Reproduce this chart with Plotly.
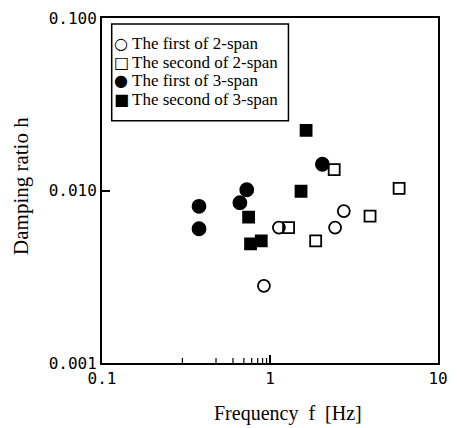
import math
import plotly.graph_objects as go

# Frequency [Hz] and damping ratio h for each mode group
first_2span_f = [1.13, 2.44, 2.75, 0.92]
first_2span_h = [0.0061, 0.0061, 0.0076, 0.0028]

second_2span_f = [1.29, 1.87, 2.41, 3.94, 5.87]
second_2span_h = [0.0061, 0.0051, 0.0132, 0.0071, 0.0103]

first_3span_f = [0.378, 0.378, 0.662, 0.727, 2.05]
first_3span_h = [0.0081, 0.0060, 0.0085, 0.0101, 0.0142]

second_3span_f = [0.746, 0.766, 0.887, 1.53, 1.64]
second_3span_h = [0.0070, 0.0049, 0.0051, 0.0099, 0.0223]

series = [
    ("The first of 2-span", first_2span_f, first_2span_h, "circle-open", 12, "○"),
    ("The second of 2-span", second_2span_f, second_2span_h, "square-open", 11, "□"),
    ("The first of 3-span", first_3span_f, first_3span_h, "circle", 13, "●"),
    ("The second of 3-span", second_3span_f, second_3span_h, "square", 11, "■"),
]

fig = go.Figure()
for name, fx, hy, sym, size, _ in series:
    fig.add_trace(go.Scatter(
        x=fx, y=hy, mode="markers", name=name, showlegend=False,
        marker=dict(symbol=sym, size=size, color="black",
                    line=dict(color="black", width=1.8)),
    ))

tick_font = dict(family="DejaVu Sans Mono", size=16, color="#000000")
serif = "Liberation Serif"
x_decades = (-1, 1)   # log10 of 0.1 .. 10
y_decades = (-3, -1)  # log10 of 0.001 .. 0.1

axis_style = dict(
    dtick=1, ticks="inside", ticklen=8, tickwidth=1.5, tickcolor="#000000",
    showline=True, linecolor="#000000", linewidth=2, mirror=True,
    gridcolor="rgba(0,0,0,0)", tickfont=tick_font,
)
fig.update_xaxes(type="log", range=list(x_decades), **axis_style)
fig.update_yaxes(type="log", range=list(y_decades), tickformat=".3f", **axis_style)

# Plot-area geometry in pixels, used to place the axis titles and the key box
W, H = 457, 428
L, R, T, B = 102, 9, 17, 65
pw, ph = W - L - R, H - T - B


def px(x):
    return (x - L) / pw


def py(y):
    return 1 - (y - T) / ph


# Inward tick marks on the bottom and left axes: long at each decade, short at 2..9
tick_shapes = []
for lo, hi, axis in ((*x_decades, "x"), (*y_decades, "y")):
    for e in range(lo, hi):
        for m in range(1, 10):
            if m == 1 and e == lo:
                continue  # falls on the frame corner
            pos = math.log10(m * 10 ** e)
            length = 8 if m == 1 else 5
            width = 1.5 if m == 1 else 1.2
            if axis == "x":
                tick_shapes.append(dict(
                    type="line", xref="x", yref="paper", ysizemode="pixel",
                    yanchor=0, y0=0, y1=length, x0=pos, x1=pos,
                    line=dict(color="black", width=width)))
            else:
                tick_shapes.append(dict(
                    type="line", yref="y", xref="paper", xsizemode="pixel",
                    xanchor=0, x0=0, x1=length, y0=pos, y1=pos,
                    line=dict(color="black", width=width)))

annotations = [
    dict(text="Frequency\u00a0\u00a0f\u00a0\u00a0[Hz]", x=px(294), y=py(414),
         font=dict(family=serif, size=20, color="black")),
    dict(text="Damping ratio h", x=px(18), y=py(185), textangle=-90,
         font=dict(family=serif, size=21, color="black")),
]

# Key box with a symbol and a label per group
row_y = [43, 61.5, 80, 98.5]
for (name, _, _, _, _, glyph), ry in zip(series, row_y):
    annotations.append(dict(
        text=glyph, x=px(122), y=py(ry),
        font=dict(family="DejaVu Sans", size=16, color="black"),
    ))
    annotations.append(dict(
        text=name, x=px(131), y=py(ry), xanchor="left",
        font=dict(family=serif, size=17, color="black"),
    ))
for a in annotations:
    a.setdefault("xref", "paper")
    a.setdefault("yref", "paper")
    a.setdefault("showarrow", False)
    a.setdefault("xanchor", "center")
    a.setdefault("yanchor", "middle")

key_box = dict(type="rect", xref="paper", yref="paper",
               x0=px(112), x1=px(294), y0=py(120), y1=py(23),
               line=dict(color="black", width=1.5), fillcolor="white",
               layer="below")

fig.update_layout(
    width=W, height=H,
    margin=dict(l=L, r=R, t=T, b=B),
    paper_bgcolor="white", plot_bgcolor="white",
    showlegend=False,
    annotations=annotations,
    shapes=[key_box] + tick_shapes,
)

fig.write_html("out.html")
